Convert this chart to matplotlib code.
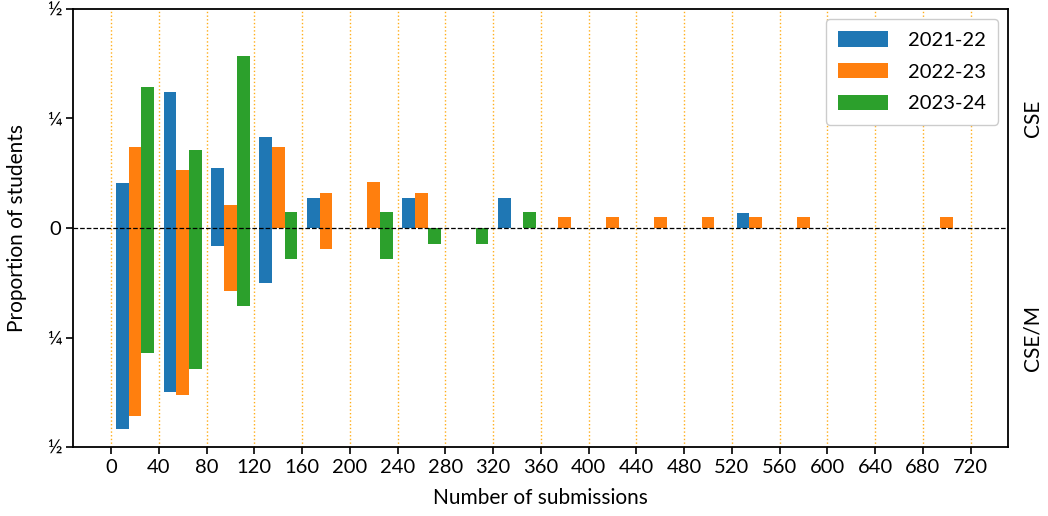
import matplotlib
matplotlib.use("Agg")
import matplotlib.pyplot as plt
import numpy as np

plt.rcParams['font.family'] = ['Lato', 'DejaVu Sans']

# Submission-count bins (width 40) and their centres
bin_edges = list(range(0, 720, 40))
bin_centres = [e + 20 for e in bin_edges]

years = ["2021-22", "2022-23", "2023-24"]
colors = ["#1f77b4", "#ff7f0e", "#2ca02c"]

# Proportion of students per bin, CSE cohort (plotted upwards)
cse_2122 = [0.103, 0.310, 0.138, 0.207, 0.069, 0, 0.069, 0, 0.069, 0, 0, 0, 0, 0.034, 0, 0, 0, 0]
cse_2223 = [0.184, 0.132, 0.053, 0.184, 0.079, 0.105, 0.079, 0, 0, 0.026, 0.026, 0.026, 0.026, 0.026, 0.026, 0, 0, 0.026]
cse_2324 = [0.321, 0.179, 0.393, 0.036, 0, 0.036, 0, 0, 0.036, 0, 0, 0, 0, 0, 0, 0, 0, 0]

# Proportion of students per bin, CSE/M cohort (plotted downwards)
csem_2122 = [0.458, 0.375, 0.042, 0.125, 0, 0, 0, 0, 0, 0, 0, 0, 0, 0, 0, 0, 0, 0]
csem_2223 = [0.429, 0.381, 0.143, 0, 0.048, 0, 0, 0, 0, 0, 0, 0, 0, 0, 0, 0, 0, 0]
csem_2324 = [0.286, 0.321, 0.179, 0.071, 0, 0.071, 0.036, 0.036, 0, 0, 0, 0, 0, 0, 0, 0, 0, 0]

cse = [cse_2122, cse_2223, cse_2324]
csem = [csem_2122, csem_2223, csem_2324]

xticks = list(range(0, 721, 40))
yticks = [-0.5, -0.25, 0, 0.25, 0.5]
yticklabels = ["½", "¼", "0", "¼", "½"]

fig = plt.figure(figsize=(10.48, 5.16), dpi=100)
ax = fig.add_axes([0.0700, 0.1337, 0.8921, 0.8489])

width = 40 * 0.8 / 3
x = np.array(bin_centres, dtype=float)
for i, (up, down, lab, col) in enumerate(zip(cse, csem, years, colors)):
    xs = x + (i - 1) * width
    ax.bar(xs, up, width=width, color=col, label=lab, zorder=2)
    ax.bar(xs, -np.array(down), width=width, color=col, zorder=2)

ax.axhline(0, color="black", linestyle="--", linewidth=0.9, zorder=3)
for t in xticks:
    ax.axvline(t, color="#ffa500", linestyle=":", linewidth=1.0, alpha=0.9, zorder=1)

ax.set_ylim(-0.5, 0.5)
ax.set_yticks(yticks)
ax.set_yticklabels(yticklabels)
ax.set_xticks(xticks)
ax.tick_params(labelsize=14.5, length=5, width=1.2)

for s in ax.spines.values():
    s.set_linewidth(1.3)

ax.set_xlabel("Number of submissions", fontsize=15, labelpad=9)
ax.set_ylabel("Proportion of students", fontsize=15, labelpad=14)

ax.text(1.026, 0.75, "CSE", transform=ax.transAxes, rotation=90,
        ha="center", va="center", fontsize=15)
ax.text(1.026, 0.25, "CSE/M", transform=ax.transAxes, rotation=90,
        ha="center", va="center", fontsize=15)

ax.legend(loc="upper right", fontsize=14.5, handlelength=2.5, handleheight=0.8,
          handletextpad=1.0, labelspacing=0.7, borderpad=0.6, borderaxespad=0.5,
          framealpha=1.0)

fig.savefig("out.png", dpi=100)
